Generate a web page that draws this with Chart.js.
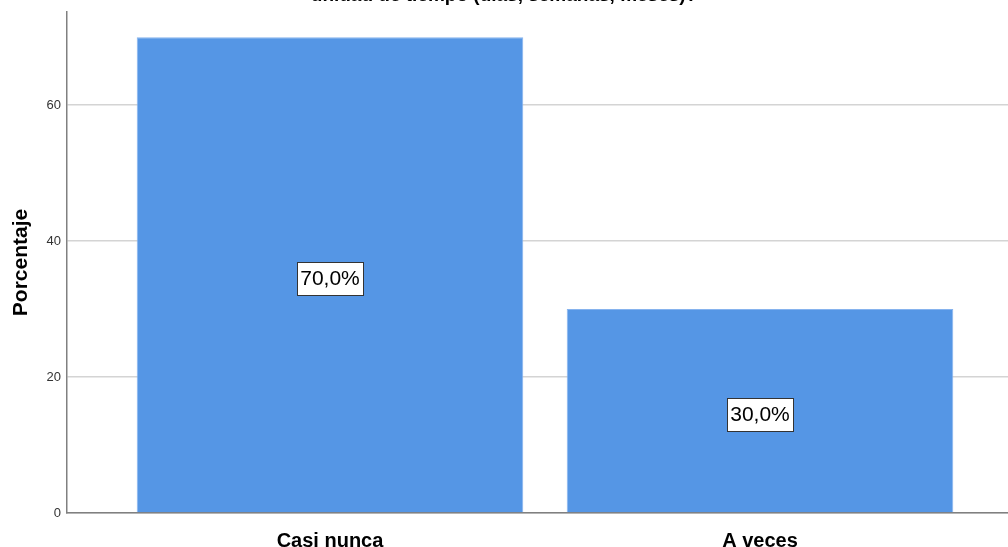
<!DOCTYPE html>
<html>
<head>
<meta charset="utf-8">
<script src="https://cdn.jsdelivr.net/npm/chart.js@4/dist/chart.umd.min.js"></script>
<style>
    html, body { margin: 0; padding: 0; background: #fff; }
    #wrap { position: relative; width: 1008px; height: 547px; overflow: hidden; }
    #chart { position: absolute; left: 0; top: -16px; }
</style>
</head>
<body>
<div id="wrap"><canvas id="chart" width="1008" height="563"></canvas></div>
<script>
    var categories = ['Casi nunca', 'A veces'];
    var percentages = [70.0, 30.0];
    var yTicks = [0, 20, 40, 60];
    var titleText = 'unidad de tiempo (días, semanas, meses)?';
    var yAxisTitle = 'Porcentaje';

    var FONT = "'Liberation Sans', Arial, sans-serif";
    Chart.defaults.font.family = FONT;

    // boxed percentage label in the middle of each bar
    var barLabels = {
        id: 'barLabels',
        afterDatasetsDraw: function(chart) {
            var ctx = chart.ctx;
            var meta = chart.getDatasetMeta(0);
            ctx.save();
            ctx.font = '21px ' + FONT;
            ctx.textAlign = 'center';
            ctx.textBaseline = 'middle';
            meta.data.forEach(function(bar, i) {
                var text = percentages[i].toFixed(1).replace('.', ',') + '%';
                var cx = bar.x;
                var cy = (bar.y + bar.base) / 2 + 4;
                var w = Math.round(ctx.measureText(text).width + 6);
                var h = 33;
                var x0 = Math.round(cx - w / 2), y0 = Math.round(cy - h / 2);
                ctx.fillStyle = '#fff';
                ctx.fillRect(x0, y0, w, h);
                ctx.strokeStyle = '#333';
                ctx.lineWidth = 1;
                ctx.strokeRect(x0 + 0.5, y0 + 0.5, w, h);
                ctx.fillStyle = '#000';
                ctx.fillText(text, cx, cy + 1);
            });
            ctx.restore();
        }
    };

    var points = categories.map(function(c, i) {
        return { x: i, y: percentages[i] };
    });

    new Chart(document.getElementById('chart').getContext('2d'), {
        type: 'bar',
        data: {
            datasets: [{
                data: points,
                backgroundColor: '#5596e5',
                borderColor: '#86b3ee',
                borderWidth: 1,
                categoryPercentage: 1,
                barPercentage: 0.899
            }]
        },
        options: {
            responsive: false,
            animation: false,
            devicePixelRatio: 1,
            layout: { padding: 0 },
            plugins: {
                legend: { display: false },
                tooltip: { enabled: false },
                title: {
                    display: true,
                    text: titleText,
                    color: '#000',
                    font: { size: 19, weight: 'bold' },
                    padding: { top: 0, bottom: 5.2 }
                }
            },
            scales: {
                x: {
                    type: 'linear',
                    offset: false,
                    min: -0.6116,
                    max: 1.5767,
                    afterBuildTicks: function(s) {
                        s.ticks = categories.map(function(c, i) { return { value: i }; });
                    },
                    afterFit: function(s) { s.height = 34; },
                    grid: { display: false },
                    border: { color: '#808080', width: 1.5 },
                    ticks: {
                        maxRotation: 0,
                        autoSkip: false,
                        padding: 8,
                        color: '#000',
                        font: { size: 20, weight: 'bold' },
                        callback: function(v) { return categories[v]; }
                    }
                },
                y: {
                    min: 0,
                    max: 73.7,
                    afterBuildTicks: function(s) {
                        s.ticks = yTicks.map(function(v) { return { value: v }; });
                    },
                    afterFit: function(s) { s.width = 67; },
                    grid: { color: '#d4d4d4', lineWidth: 1.5, drawTicks: false },
                    border: { color: '#808080', width: 1.5 },
                    ticks: {
                        padding: 6,
                        color: '#333',
                        font: { size: 13 }
                    },
                    title: {
                        display: true,
                        text: yAxisTitle,
                        color: '#000',
                        font: { size: 21, weight: 'bold' },
                        padding: { top: 9, bottom: 0 }
                    }
                }
            }
        },
        plugins: [barLabels]
    });
</script>
</body>
</html>
